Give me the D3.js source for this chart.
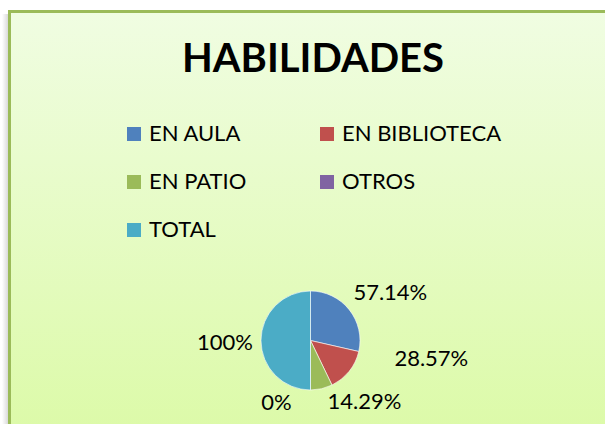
<!DOCTYPE html>
<html>
<head>
<meta charset="utf-8">
<script src="https://cdn.jsdelivr.net/npm/d3@7"></script>
<style>
  html, body { margin: 0; padding: 0; background: #fff; }
  svg { display: block; }
</style>
</head>
<body>
<div id="chart"></div>
<script>
// data
const categories = ['EN AULA', 'EN BIBLIOTECA', 'EN PATIO', 'OTROS', 'TOTAL'];
const values = [57.14, 28.57, 14.29, 0, 100];
const valueLabels = ['57.14%', '28.57%', '14.29%', '0%', '100%'];
const colors = ['#4f81bd', '#c0504d', '#9bbb59', '#8064a2', '#4bacc6'];

let width = 605,
    height = 424,
    radius = 49.5

// label nudges (Excel "best fit" moved some labels off the outside-end spot)
const labelNudge = [[6, -8], [47, -23], [33, -3], [-34, -4], [0, 1]];

const svg = d3.select('#chart').append('svg')
  .attr('xmlns', 'http://www.w3.org/2000/svg')
  .attr('width', width)
  .attr('height', height);

const defs = svg.append('defs');
const bg = defs.append('linearGradient')
  .attr('id', 'bg').attr('x1', 0).attr('y1', 0).attr('x2', 0).attr('y2', 1);
bg.append('stop').attr('offset', '0%').attr('stop-color', '#f0fde2');
bg.append('stop').attr('offset', '100%').attr('stop-color', '#dbfaa5');

const shadow = defs.append('linearGradient')
  .attr('id', 'shadow').attr('x1', 0).attr('y1', 0).attr('x2', 1).attr('y2', 0);
shadow.append('stop').attr('offset', '0%').attr('stop-color', '#ffffff');
shadow.append('stop').attr('offset', '100%').attr('stop-color', '#d9d9d9');

// drop shadow on the left of the frame
svg.append('rect')
  .attr('x', 2).attr('y', 14).attr('width', 6).attr('height', height)
  .attr('fill', 'url(#shadow)');

// chart frame
svg.append('rect')
  .attr('x', 9.5).attr('y', 11.5)
  .attr('width', width + 20).attr('height', height + 20)
  .attr('fill', 'url(#bg)')
  .attr('stroke', '#9bbb59')
  .attr('stroke-width', 3);

// title
svg.append('text')
  .attr('x', 313).attr('y', 72)
  .attr('text-anchor', 'middle')
  .style('font-family', 'Lato, "Open Sans", sans-serif')
  .style('font-weight', 'bold')
  .style('font-size', '40px')
  .attr('fill', '#000')
  .text('HABILIDADES');

// legend
const legend = svg.append('g').attr('transform', 'translate(127,127)');
const items = legend.selectAll('g.item')
  .data(categories)
  .enter().append('g')
  .attr('class', 'item')
  .attr('transform', function(d, i) {
    return 'translate(' + (193 * (i % 2)) + ',' + (48 * Math.floor(i / 2)) + ')';
  });
items.append('rect')
  .attr('width', 14).attr('height', 14)
  .attr('fill', function(d, i) { return colors[i]; });
items.append('text')
  .attr('x', 22).attr('y', 14)
  .style('font-family', 'Lato, "Open Sans", sans-serif')
  .style('font-size', '22px')
  .attr('fill', '#000')
  .text(function(d) { return d; });

// pie
const pieG = svg.append('g')
  .attr('transform', 'translate(310.5,340.5)');

const pie = d3.pie()
  .sort(null)
  .value(function(d) { return d; });
const data_ready = pie(values);

const arc = d3.arc()
  .innerRadius(0)
  .outerRadius(radius);

pieG.selectAll('path.slice')
  .data(data_ready)
  .enter().append('path')
  .attr('class', 'slice')
  .attr('d', arc)
  .attr('fill', function(d, i) { return colors[i]; })
  .attr('stroke', '#ffffff')
  .attr('stroke-width', 0.6);

// labels: outside end, box pushed out along the mid angle
const labelR = radius + 8;
const labels = pieG.selectAll('text.lbl')
  .data(data_ready)
  .enter().append('text')
  .attr('class', 'lbl')
  .attr('text-anchor', 'middle')
  .style('font-family', 'Lato, "Open Sans", sans-serif')
  .style('font-size', '22px')
  .attr('fill', '#000')
  .text(function(d, i) { return valueLabels[i]; });

labels.each(function(d, i) {
  let w = this.getComputedTextLength();
  let h = 16;
  let a = (d.startAngle + d.endAngle) / 2;
  let px = labelR * Math.sin(a), py = -labelR * Math.cos(a);
  let cx = px + Math.sin(a) * w / 2 + labelNudge[i][0];
  let cy = py - Math.cos(a) * h / 2 + labelNudge[i][1];
  d3.select(this).attr('x', cx).attr('y', cy + h / 2);
});
</script>
</body>
</html>
